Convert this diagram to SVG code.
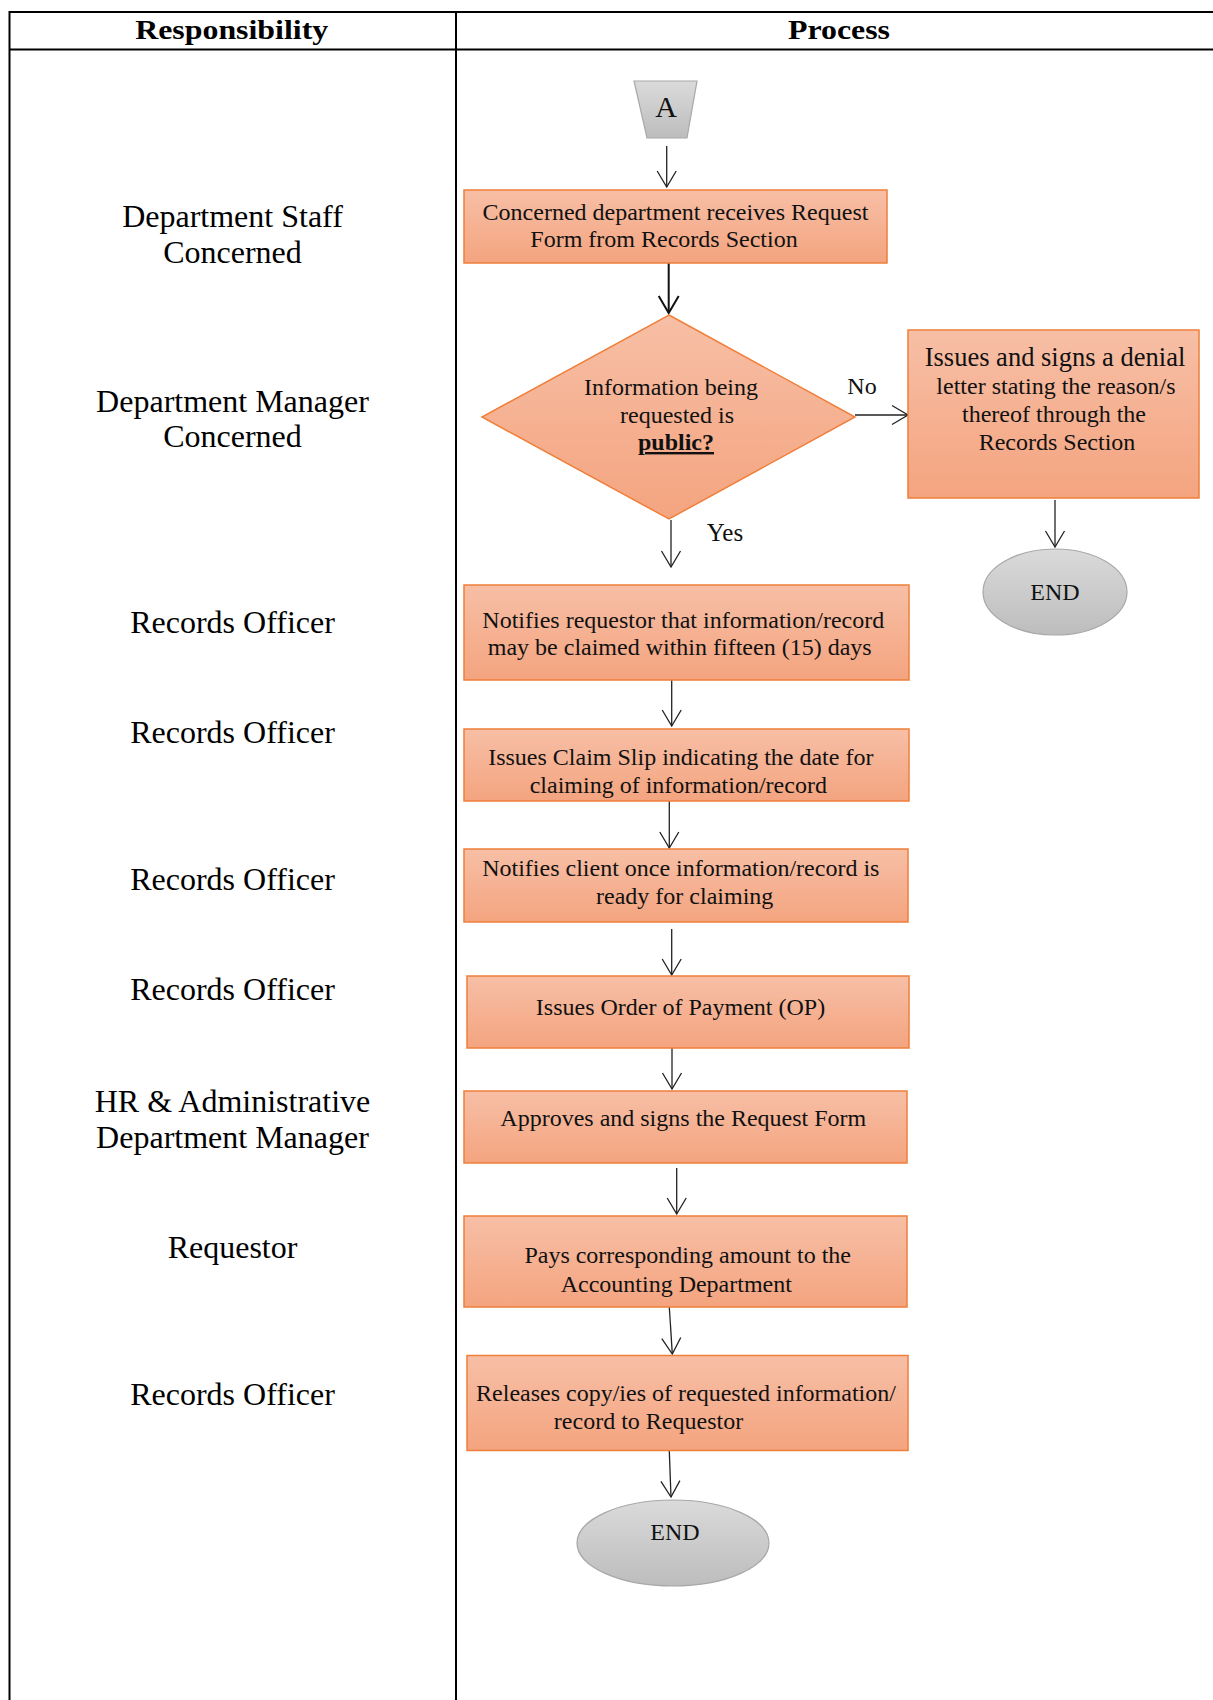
<svg xmlns="http://www.w3.org/2000/svg" width="1213" height="1700" viewBox="0 0 1213 1700">
<style>
  .tbl { stroke:#000; stroke-width:2; fill:none; }
  .hdr { font-family:"Liberation Serif","Times New Roman",serif; font-weight:bold; font-size:27px; fill:#000; text-anchor:middle; }
  .role { font-family:"Liberation Serif","Times New Roman",serif; font-size:32px; fill:#000; text-anchor:middle; }
  .box { fill:url(#og); stroke:#F07F3A; stroke-width:1.5; }
  .gray { fill:url(#gg); stroke:#A8A8A8; stroke-width:1.2; }
  .t { font-family:"Liberation Serif","Times New Roman",serif; font-size:24px; fill:#111; text-anchor:middle; }
  .big { font-size:26.5px; }
  .conn line { stroke:#222; stroke-width:1.3; marker-end:url(#ah); }
  .conn line.thick { stroke:#111; stroke-width:2; marker-end:url(#ah2); }
</style>
<defs>
  <linearGradient id="og" x1="0" y1="0" x2="0" y2="1">
    <stop offset="0" stop-color="#F7BFA6"/>
    <stop offset="1" stop-color="#F4A47F"/>
  </linearGradient>
  <linearGradient id="gg" x1="0" y1="0" x2="0" y2="1">
    <stop offset="0" stop-color="#DADADA"/>
    <stop offset="1" stop-color="#BDBDBD"/>
  </linearGradient>
  <marker id="ah" viewBox="-20 -12 24 24" refX="0" refY="0" markerWidth="24" markerHeight="24" markerUnits="userSpaceOnUse" orient="auto">
    <path d="M-16,-9.5 L0,0 L-16,9.5" fill="none" stroke="#222" stroke-width="1.3"/>
  </marker>
  <marker id="ah2" viewBox="-20 -12 24 24" refX="0" refY="0" markerWidth="24" markerHeight="24" markerUnits="userSpaceOnUse" orient="auto">
    <path d="M-17,-10 L0,0 L-17,10" fill="none" stroke="#111" stroke-width="2"/>
  </marker>
</defs>

<g id="table">
  <line class="tbl" x1="9.5" y1="12" x2="1213" y2="12"/>
  <line class="tbl" x1="9.5" y1="49.5" x2="1213" y2="49.5"/>
  <line class="tbl" x1="9.5" y1="11" x2="9.5" y2="1700"/>
  <line class="tbl" x1="456" y1="11" x2="456" y2="1700"/>
  <text class="hdr" x="231.7" y="39" textLength="193" lengthAdjust="spacingAndGlyphs">Responsibility</text>
  <text class="hdr" x="839" y="39" textLength="102" lengthAdjust="spacingAndGlyphs">Process</text>
</g>

<g id="roles">
  <text class="role" x="232.5" y="226.7">Department Staff</text>
  <text class="role" x="232.5" y="262.7">Concerned</text>
  <text class="role" x="232.5" y="411.7">Department Manager</text>
  <text class="role" x="232.5" y="447.3">Concerned</text>
  <text class="role" x="232.5" y="632.7">Records Officer</text>
  <text class="role" x="232.5" y="743.3">Records Officer</text>
  <text class="role" x="232.5" y="890">Records Officer</text>
  <text class="role" x="232.5" y="1000">Records Officer</text>
  <text class="role" x="232.5" y="1111.7">HR &amp; Administrative</text>
  <text class="role" x="232.5" y="1148.3">Department Manager</text>
  <text class="role" x="232.5" y="1258.3">Requestor</text>
  <text class="role" x="232.5" y="1405">Records Officer</text>
</g>

<g class="conn" id="connectors">
  <line x1="666.7" y1="146" x2="666.7" y2="187"/>
  <line class="thick" x1="668.7" y1="263" x2="668.7" y2="313"/>
  <line x1="855" y1="415" x2="908" y2="415"/>
  <line x1="671" y1="520" x2="671" y2="567"/>
  <line x1="1055" y1="500" x2="1055" y2="547"/>
  <line x1="671.7" y1="680" x2="671.7" y2="726"/>
  <line x1="669.3" y1="801" x2="669.3" y2="848"/>
  <line x1="671.7" y1="929" x2="671.7" y2="975"/>
  <line x1="672" y1="1048" x2="672" y2="1089"/>
  <line x1="676.7" y1="1168" x2="676.7" y2="1214"/>
  <line x1="669.3" y1="1307" x2="672.3" y2="1354"/>
  <line x1="669.3" y1="1451" x2="671" y2="1497"/>
  <text class="t" x="862" y="394">No</text>
  <text class="t" x="725" y="540.7" style="font-size:25px">Yes</text>
</g>

<g id="connectorA">
  <polygon class="gray" points="634,81 697,81 687,138 647,138"/>
  <text class="t" x="666" y="117" style="font-size:30px">A</text>
</g>

<g id="n1">
  <rect class="box" x="464" y="190" width="423" height="73"/>
  <text class="t" x="675.5" y="220">Concerned department receives Request</text>
  <text class="t" x="664" y="246.7">Form from Records Section</text>
</g>

<g id="decision">
  <polygon class="box" points="669,315 855,417 669,519 482,417"/>
  <text class="t" x="671" y="395">Information being</text>
  <text class="t" x="677" y="422.7">requested is</text>
  <text class="t" x="676" y="450" font-weight="bold" text-decoration="underline">public?</text>
</g>

<g id="denial">
  <rect class="box" x="908" y="330" width="291" height="168"/>
  <text class="t big" x="1055" y="366">Issues and signs a denial</text>
  <text class="t" x="1056" y="394">letter stating the reason/s</text>
  <text class="t" x="1054" y="421.7">thereof through the</text>
  <text class="t" x="1057" y="450">Records Section</text>
</g>

<g id="end1">
  <ellipse class="gray" cx="1055" cy="592" rx="72" ry="43"/>
  <text class="t" x="1055" y="600">END</text>
</g>

<g id="n2">
  <rect class="box" x="464" y="585" width="445" height="95"/>
  <text class="t" x="683.3" y="628.3">Notifies requestor that information/record</text>
  <text class="t" x="679.7" y="655">may be claimed within fifteen (15) days</text>
</g>

<g id="n3">
  <rect class="box" x="464" y="729" width="445" height="72"/>
  <text class="t" x="680.8" y="765">Issues Claim Slip indicating the date for</text>
  <text class="t" x="678.3" y="792.7">claiming of information/record</text>
</g>

<g id="n4">
  <rect class="box" x="464" y="849" width="444" height="73"/>
  <text class="t" x="680.8" y="876">Notifies client once information/record is</text>
  <text class="t" x="684.7" y="904.3">ready for claiming</text>
</g>

<g id="n5">
  <rect class="box" x="467" y="976" width="442" height="72"/>
  <text class="t" x="680.5" y="1015">Issues Order of Payment (OP)</text>
</g>

<g id="n6">
  <rect class="box" x="464" y="1091" width="443" height="72"/>
  <text class="t" x="683.3" y="1126">Approves and signs the Request Form</text>
</g>

<g id="n7">
  <rect class="box" x="464" y="1216" width="443" height="91"/>
  <text class="t" x="687.7" y="1263.2">Pays corresponding amount to the</text>
  <text class="t" x="676.3" y="1291.5">Accounting Department</text>
</g>

<g id="n8">
  <rect class="box" x="467" y="1355.5" width="441" height="95"/>
  <text class="t" x="686" y="1401.4">Releases copy/ies of requested information/</text>
  <text class="t" x="648.5" y="1428.6">record to Requestor</text>
</g>

<g id="end2">
  <ellipse class="gray" cx="673" cy="1543" rx="96" ry="43"/>
  <text class="t" x="675" y="1540">END</text>
</g>
</svg>
